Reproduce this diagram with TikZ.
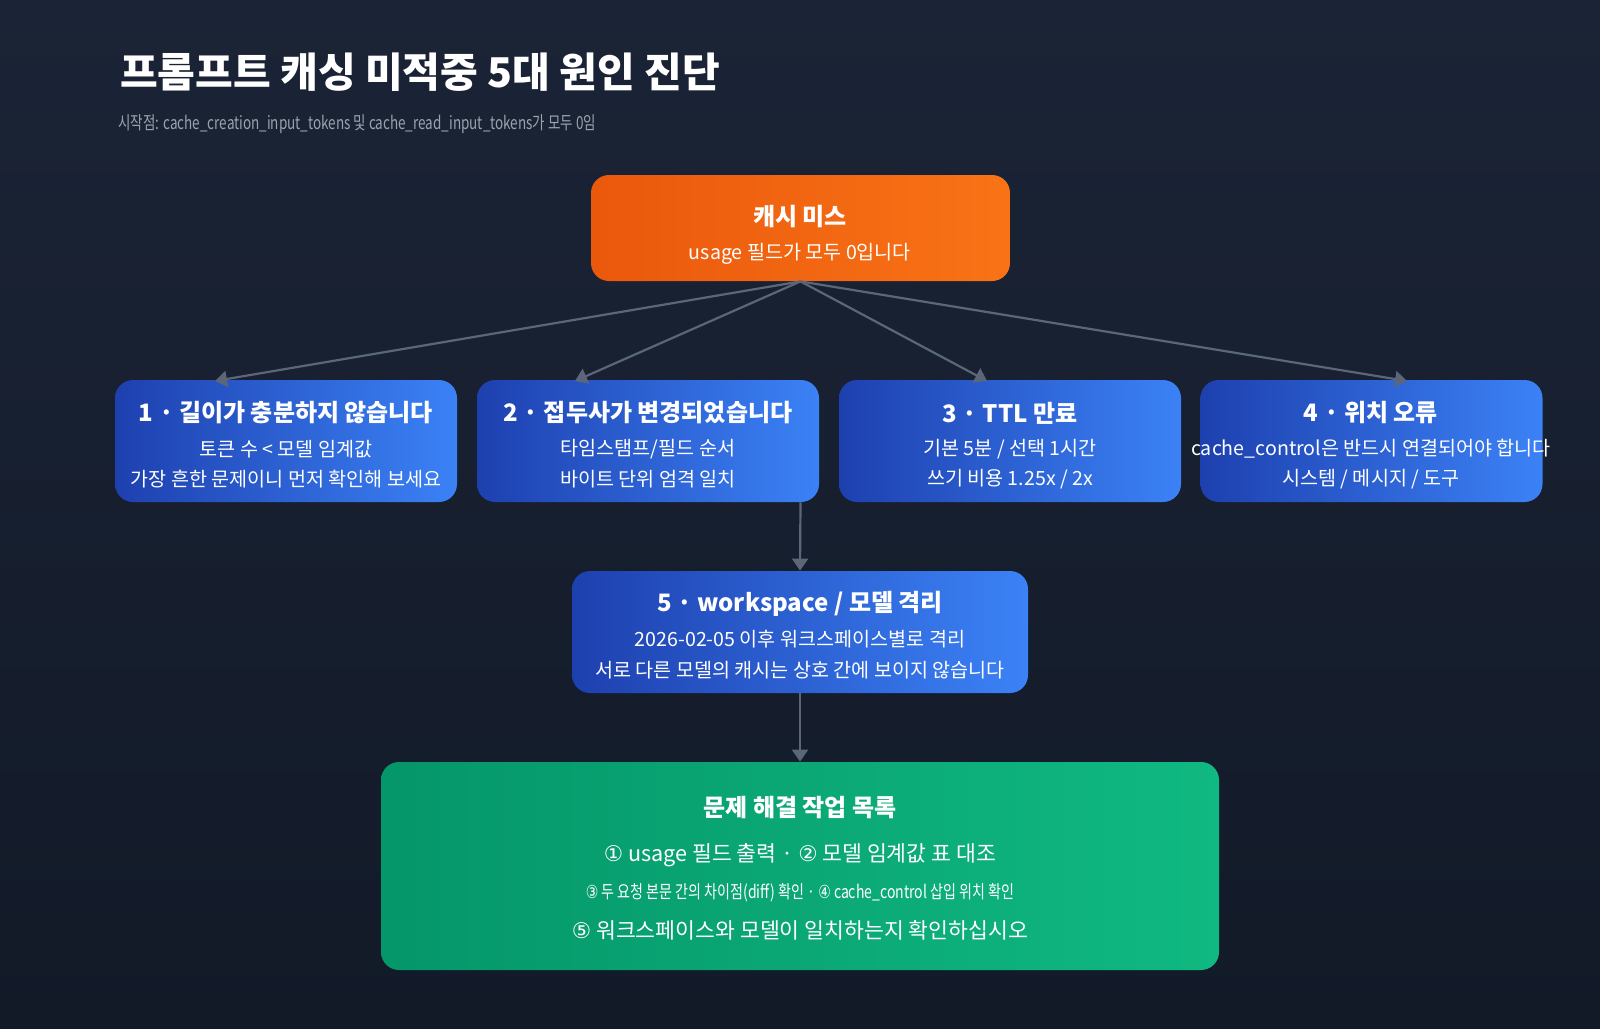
\documentclass[tikz,border=0pt]{standalone}
\usepackage{fontspec}
\setmainfont{Noto Sans CJK KR}
\newfontfamily\dejavu{DejaVu Sans}
\usetikzlibrary{arrows.meta}
\definecolor{bgA}{HTML}{1B2436}
\definecolor{bgB}{HTML}{121A28}
\definecolor{orA}{HTML}{EA580C}
\definecolor{orB}{HTML}{F97316}
\definecolor{blA}{HTML}{1E40AF}
\definecolor{blB}{HTML}{3B82F6}
\definecolor{grA}{HTML}{059669}
\definecolor{grB}{HTML}{10B981}
\definecolor{arr}{HTML}{5B6678}
\definecolor{sub}{HTML}{9CA3AF}
\tikzset{
  box/.style={rounded corners=9pt, draw=none, minimum height=#1, align=center, text=white, inner sep=0pt},
  orbox/.style={box=53pt, left color=orA, right color=orB},
  blbox/.style={box=61pt, left color=blA, right color=blB},
  grbox/.style={box=104pt, left color=grA, right color=grB},
  conn/.style={draw=arr, line width=1.1pt, -{Triangle[length=6pt,width=8pt]}},
  ttl/.style={font=\bfseries\fontsize{12}{14}\selectfont},
  ln/.style={font=\fontsize{9.8}{15}\selectfont}
}
\begin{document}
\begin{tikzpicture}[x=0.5pt,y=-0.5pt]
\shade[top color=bgA, bottom color=bgB] (0,0) rectangle (1600,1028);
\useasboundingbox (0,0) rectangle (1600,1028);
\node[anchor=west, text=white, font=\bfseries\fontsize{20.5}{24}\selectfont] (title) at (113,72) {프롬프트 캐싱 미적중 5대 원인 진단};
\node[anchor=west, text=sub, font=\fontsize{9}{10}\selectfont, xscale=0.75] (subt) at (113,124) {시작점: cache\_creation\_input\_tokens 및 cache\_read\_input\_tokens가 모두 0임};
% boxes
\node[orbox, minimum width=209.5pt] (top) at (800.5,228) {};
\node[ttl, text=white] (topt) at (800,217) {캐시 미스};
\node[ln, text=white] (topl) at (800,254) {usage 필드가 모두 0입니다};

\node[blbox, minimum width=171pt] (b1) at (286,441) {};
\node[blbox, minimum width=171pt] (b2) at (648,441) {};
\node[blbox, minimum width=171pt] (b3) at (1010,441) {};
\node[blbox, minimum width=171pt] (b4) at (1371.5,441) {};
\node[blbox, minimum width=228pt] (b5) at (800,632) {};
\node[grbox, minimum width=419pt] (g) at (800,866) {};

\foreach \n/\x/\t/\a/\b in {b1/286/{1 · 길이가 충분하지 않습니다}/{토큰 수 < 모델 임계값}/{가장 흔한 문제이니 먼저 확인해 보세요},
 b2/648/{2 · 접두사가 변경되었습니다}/{타임스탬프/필드 순서}/{바이트 단위 엄격 일치},
 b3/1010/{3 · TTL 만료}/{기본 5분 / 선택 1시간}/{쓰기 비용 1.25x / 2x},
 b4/1371/{4 · 위치 오류}/{cache\_control은 반드시 연결되어야 합니다}/{시스템 / 메시지 / 도구}}{
  \node[ttl, text=white] (\n t) at (\x,413) {\t};
  \node[ln, text=white] (\n a) at (\x,449) {\a};
  \node[ln, text=white] (\n b) at (\x,479) {\b};
}
\node[ttl, text=white] (b5t) at (800,604) {5 · workspace / 모델 격리};
\node[ln, text=white] (b5a) at (800,639) {2026-02-05 이후 워크스페이스별로 격리};
\node[ln, text=white] (b5b) at (800,670) {서로 다른 모델의 캐시는 상호 간에 보이지 않습니다};

\node[ttl, text=white] (gt) at (800,808) {문제 해결 작업 목록};
\node[font=\fontsize{10.8}{14}\selectfont, text=white] (g1) at (800,855) {{\dejavu ①} usage 필드 출력 · {\dejavu ②} 모델 임계값 표 대조};
\node[font=\fontsize{9}{10}\selectfont, text=white, xscale=0.78] (g2) at (800,893) {{\dejavu ③} 두 요청 본문 간의 차이점(diff) 확인 · {\dejavu ④} cache\_control 삽입 위치 확인};
\node[font=\fontsize{10.8}{14}\selectfont, text=white] (g3) at (800,930) {{\dejavu ⑤} 워크스페이스와 모델이 일치하는지 확인하십시오};

\coordinate (e1) at (215,381);
\coordinate (e2) at (575,381);
\coordinate (e3) at (987,381);
\coordinate (e4) at (1407,381);
\foreach \e in {e1,e2,e3,e4} \draw[conn] (top.south) -- (\e);
\draw[conn] (b2.south -| top.south) -- (b5.north);
\draw[conn] (b5.south) -- (g.north);
\end{tikzpicture}
\end{document}
